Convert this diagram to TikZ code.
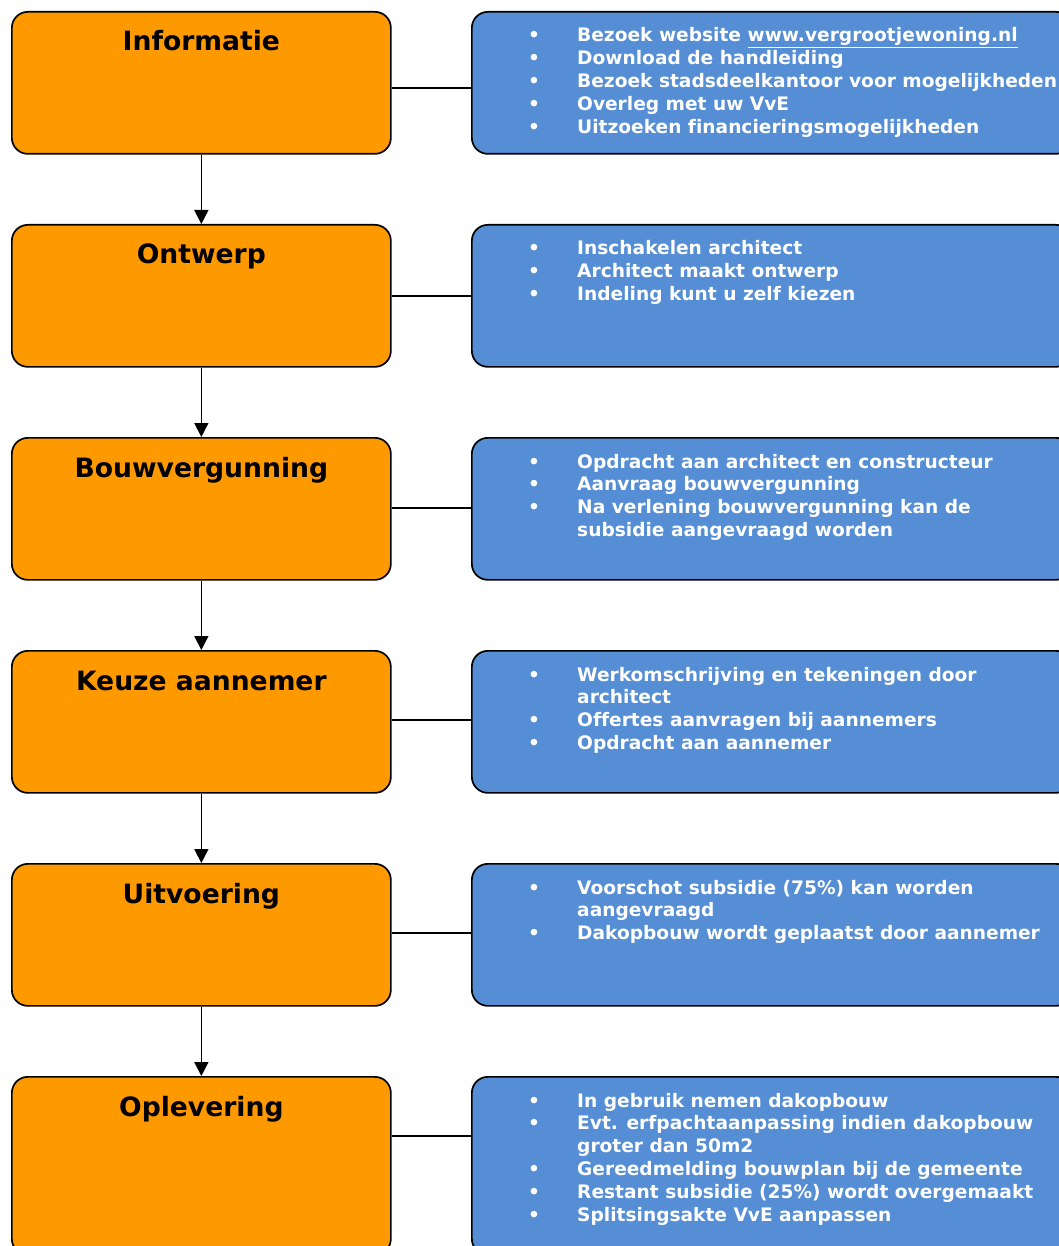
\documentclass[tikz,border=0pt]{standalone}
\usepackage{fontspec}
\setmainfont[Ligatures=NoCommon]{DejaVu Sans}
\usetikzlibrary{arrows.meta, calc}
\definecolor{stepfill}{HTML}{FF9900}
\definecolor{infofill}{HTML}{558ED5}

\tikzset{
  stepbox/.style={draw=black, fill=stepfill, line width=1.7pt, rounded corners=16pt,
    minimum width=379pt, minimum height=142pt, anchor=north west, inner sep=0pt},
  infobox/.style={draw=black, fill=infofill, line width=1.7pt, rounded corners=16pt,
    minimum width=600pt, minimum height=142pt, anchor=north west, inner sep=0pt},
  steptitle/.style={font=\fontsize{26.6}{30}\selectfont\bfseries, anchor=base, inner sep=0pt},
  infolist/.style={font=\fontsize{18.6}{22.8}\selectfont\bfseries, text=white,
    anchor=base west, inner sep=0pt},
  link/.style={line width=1.6pt},
  flow/.style={line width=1.6pt, -{Triangle[length=14pt, width=14pt]}}
}
\newcommand{\bul}{\textbullet}

\begin{document}
\begin{tikzpicture}[x=1pt, y=-1pt]
  \useasboundingbox (0,0) rectangle (1058,1246);

  % Steps
  \foreach \n/\y/\h/\t in {1/11/142/Informatie, 2/224/142/Ontwerp, 3/437/142/Bouwvergunning,
                           4/650/142/Keuze aannemer, 5/863/142/Uitvoering, 6/1076/178/Oplevering} {
    \node[stepbox, minimum height=\h pt] (s\n) at (11,\y) {};
    \node[steptitle] (t\n) at ([yshift=-40pt]s\n.north) {\t};
  }

  % Info boxes
  \node[infobox] (i1) at (471,11) {};
  \node[infolist] (l1) at ([xshift=57pt, yshift=-31pt]i1.north west) {%
    \begin{tabular}[t]{@{}p{49pt}@{}l@{}}
      \bul & Bezoek website \underline{www.vergrootjewoning.nl}\\
      \bul & Download de handleiding\\
      \bul & Bezoek stadsdeelkantoor voor mogelijkheden\\
      \bul & Overleg met uw VvE\\
      \bul & Uitzoeken financieringsmogelijkheden
    \end{tabular}};

  \node[infobox] (i2) at (471,224) {};
  \node[infolist] (l2) at ([xshift=57pt, yshift=-31pt]i2.north west) {%
    \begin{tabular}[t]{@{}p{49pt}@{}l@{}}
      \bul & Inschakelen architect\\
      \bul & Architect maakt ontwerp\\
      \bul & Indeling kunt u zelf kiezen
    \end{tabular}};

  \node[infobox] (i3) at (471,437) {};
  \node[infolist] (l3) at ([xshift=57pt, yshift=-31pt]i3.north west) {%
    \begin{tabular}[t]{@{}p{49pt}@{}l@{}}
      \bul & Opdracht aan architect en constructeur\\
      \bul & Aanvraag bouwvergunning\\
      \bul & Na verlening bouwvergunning kan de\\
           & subsidie aangevraagd worden
    \end{tabular}};

  \node[infobox] (i4) at (471,650) {};
  \node[infolist] (l4) at ([xshift=57pt, yshift=-31pt]i4.north west) {%
    \begin{tabular}[t]{@{}p{49pt}@{}l@{}}
      \bul & Werkomschrijving en tekeningen door\\
           & architect\\
      \bul & Offertes aanvragen bij aannemers\\
      \bul & Opdracht aan aannemer
    \end{tabular}};

  \node[infobox] (i5) at (471,863) {};
  \node[infolist] (l5) at ([xshift=57pt, yshift=-31pt]i5.north west) {%
    \begin{tabular}[t]{@{}p{49pt}@{}l@{}}
      \bul & Voorschot subsidie (75\%) kan worden\\
           & aangevraagd\\
      \bul & Dakopbouw wordt geplaatst door aannemer
    \end{tabular}};

  \node[infobox, minimum height=178pt] (i6) at (471,1076) {};
  \node[infolist] (l6) at ([xshift=57pt, yshift=-31pt]i6.north west) {%
    \begin{tabular}[t]{@{}p{49pt}@{}l@{}}
      \bul & In gebruik nemen dakopbouw\\
      \bul & Evt. erfpachtaanpassing indien dakopbouw\\
           & groter dan 50m2\\
      \bul & Gereedmelding bouwplan bij de gemeente\\
      \bul & Restant subsidie (25\%) wordt overgemaakt\\
      \bul & Splitsingsakte VvE aanpassen
    \end{tabular}};

  % Links
  \foreach \n/\d in {1/77, 2/72, 3/71, 4/70, 5/70, 6/60}
    \draw[link] ([yshift=-\d pt]s\n.north east) -- ([yshift=-\d pt]i\n.north west);

  % Flow
  \foreach \a/\b in {1/2, 2/3, 3/4, 4/5, 5/6}
    \draw[flow] (s\a.south) -- (s\b.north);
\end{tikzpicture}
\end{document}
